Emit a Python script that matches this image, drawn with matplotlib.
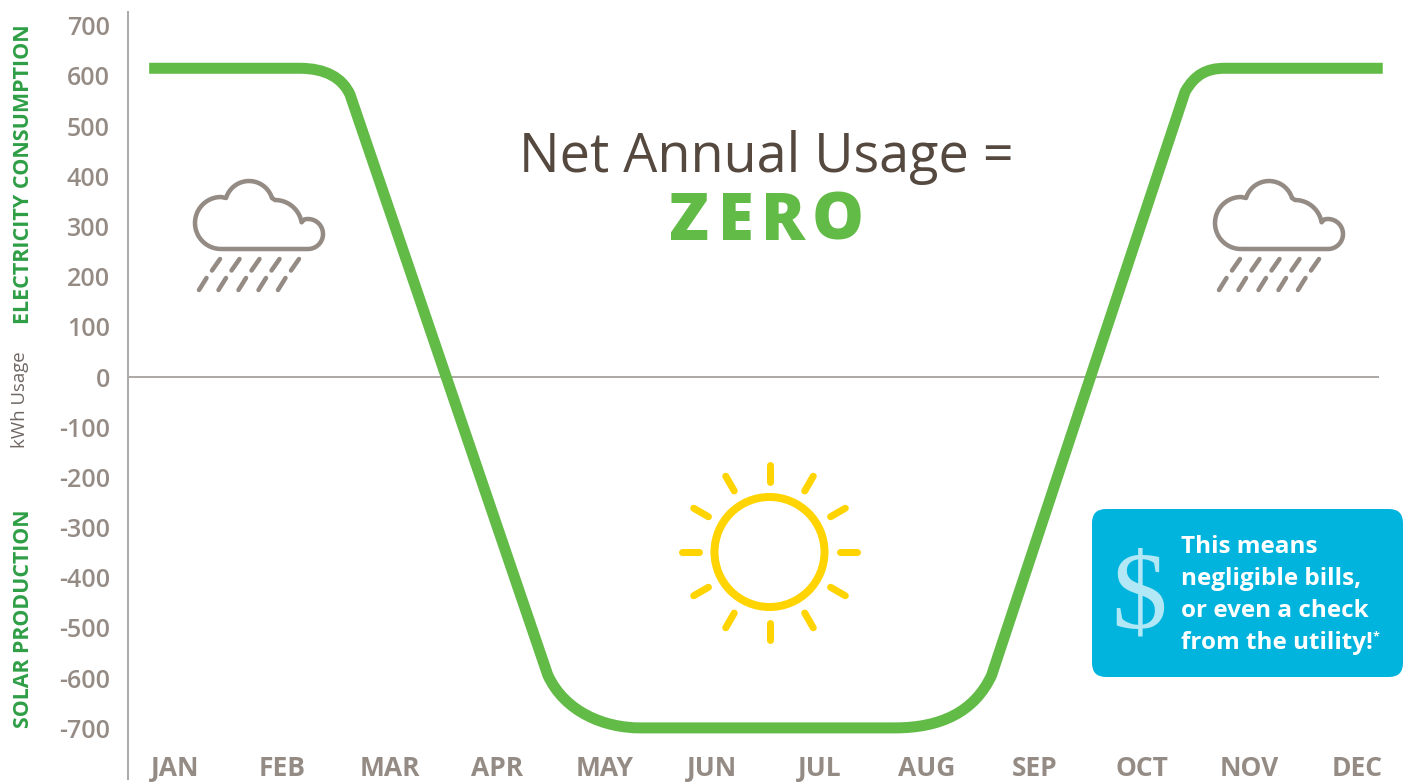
import numpy as np
import matplotlib.pyplot as plt
from matplotlib.path import Path
from matplotlib.patches import PathPatch, FancyBboxPatch, Circle

months = ['JAN', 'FEB', 'MAR', 'APR', 'MAY', 'JUN', 'JUL', 'AUG', 'SEP', 'OCT', 'NOV', 'DEC']
y_ticks = [700, 600, 500, 400, 300, 200, 100, 0, -100, -200, -300, -400, -500, -600, -700]

# month position (0 = JAN), kWh: anchors and bend handles
usage_x = [-0.24, 1.16, 1.40, 1.56, 1.63, 3.47, 3.63, 4.00, 4.33,
           6.70, 7.12, 7.44, 7.60, 9.40, 9.49, 9.60, 9.77, 11.24]
usage_y = [615, 615, 615, 596, 562, -594, -668, -699, -699,
           -699, -699, -668, -594, 568, 602, 615, 615, 615]
usage_codes = [Path.MOVETO, Path.LINETO, Path.CURVE4, Path.CURVE4, Path.CURVE4, Path.LINETO,
               Path.CURVE4, Path.CURVE4, Path.CURVE4, Path.LINETO, Path.CURVE4, Path.CURVE4,
               Path.CURVE4, Path.LINETO, Path.CURVE4, Path.CURVE4, Path.CURVE4, Path.LINETO]

GREY = '#958b85'
GREEN = '#62bb46'
DARK_GREEN = '#2e9e46'
YELLOW = '#ffd400'
BLUE = '#00b4dd'

plt.rcParams['font.family'] = ['Open Sans', 'DejaVu Sans']

W, H = 1403, 783
px = 72 / 100  # one pixel in points


def arc(cx, cy, r, a0, a1):
    a = np.radians(np.linspace(a0, a1, 40))
    return np.column_stack((cx + r * np.cos(a), cy - r * np.sin(a)))


def cloud(ax, dx):
    pts = np.vstack((arc(221, 223, 26, 270, 90),
                     arc(249, 205, 24, 163, 17),
                     arc(275, 227, 27, 90, 10),
                     arc(308, 234, 15, 105, -90),
                     [[221, 249]]))
    pts = pts + [dx, 0]
    ax.add_patch(PathPatch(Path(pts), fill=False, edgecolor=GREY, lw=4.5 * px, joinstyle='round'))
    for x0 in [220, 239.5, 259.5, 279.5, 299]:
        ax.plot([x0 + dx, x0 + dx - 8], [259, 270.5], color=GREY, lw=4.5 * px, solid_capstyle='round')
        ax.plot([x0 + dx - 13.5, x0 + dx - 21], [278, 290], color=GREY, lw=4.5 * px, solid_capstyle='round')


def sun(ax, cx, cy):
    ax.add_patch(Circle((cx, cy), 55, fill=False, edgecolor=YELLOW, lw=8 * px))
    for deg in range(0, 360, 30):
        c, s = np.cos(np.radians(deg)), np.sin(np.radians(deg))
        ax.plot([cx + 70.5 * c, cx + 87.5 * c], [cy + 70.5 * s, cy + 87.5 * s],
                color=YELLOW, lw=7 * px, solid_capstyle='round')


def main():
    fig = plt.figure(figsize=(14.03, 7.83), dpi=100)
    ax = fig.add_axes([128 / W, 4 / H, (1379 - 128) / W, (779 - 12) / H])
    ax.set_xlim(-0.437, 11.205)
    ax.set_ylim(-800.8, 727.1)

    usage = Path(np.column_stack((usage_x, usage_y)), usage_codes)
    ax.add_patch(PathPatch(usage, fill=False, edgecolor=GREEN, lw=11 * px, capstyle='butt',
                           joinstyle='round', clip_on=False, zorder=3))
    ax.axhline(0, color='#aeaaa7', lw=2 * px, zorder=1)

    for side in ['top', 'right', 'bottom']:
        ax.spines[side].set_visible(False)
    ax.spines['left'].set_color('#aeaaa7')
    ax.spines['left'].set_linewidth(2 * px)

    ax.set_yticks(y_ticks)
    ax.set_yticklabels([str(v) for v in y_ticks], fontsize=18, fontweight=600, color=GREY)
    ax.set_xticks(range(12))
    ax.set_xticklabels(months, fontsize=19, fontweight='bold', color=GREY)
    ax.tick_params(axis='y', length=0, pad=13)
    ax.tick_params(axis='x', length=0, pad=-17)

    # decorations in pixel coordinates on top of the chart
    top = fig.add_axes([0, 0, 1, 1], facecolor='none')
    top.set_xlim(0, W)
    top.set_ylim(H, 0)
    top.axis('off')

    top.text(24, 174, 'ELECTRICITY CONSUMPTION', rotation=90, ha='center', va='center',
             fontsize=15.5, fontweight='bold', color=DARK_GREEN)
    top.text(24, 619, 'SOLAR PRODUCTION', rotation=90, ha='center', va='center',
             fontsize=15.4, fontweight='bold', color=DARK_GREEN)
    top.text(20, 400, 'kWh Usage', rotation=90, ha='center', va='center',
             fontsize=13.4, color='#6f6763')

    top.text(766, 172, 'Net Annual Usage =', ha='center', va='baseline', fontsize=38.8,
             fontweight='regular', color='#54483f')
    for letter, x in zip('ZERO', [689, 736, 783, 838]):
        top.text(x, 240, letter, ha='center', va='baseline', fontsize=47,
                 fontweight='heavy', color=GREEN)

    cloud(top, 0)
    cloud(top, 1020)
    sun(top, 769.5, 552)

    top.add_patch(FancyBboxPatch((1106, 523), 283, 140, boxstyle='round,pad=14,rounding_size=14',
                                 facecolor=BLUE, edgecolor='none', clip_on=False))
    top.text(1139, 601, '$', ha='center', va='center', fontsize=80, color='#b2e8f5',
             family='Liberation Serif')
    lines = ['This means', 'negligible bills,', 'or even a check', 'from the utility!']
    for i, s in enumerate(lines):
        top.text(1181, 553 + i * 32, s, ha='left', va='baseline', fontsize=17.5,
                 fontweight='bold', color='white')
    top.text(1373, 630, '*', ha='left', va='top', fontsize=9, fontweight='bold', color='white')

    fig.savefig('out.png', dpi=100)


if __name__ == '__main__':
    main()
